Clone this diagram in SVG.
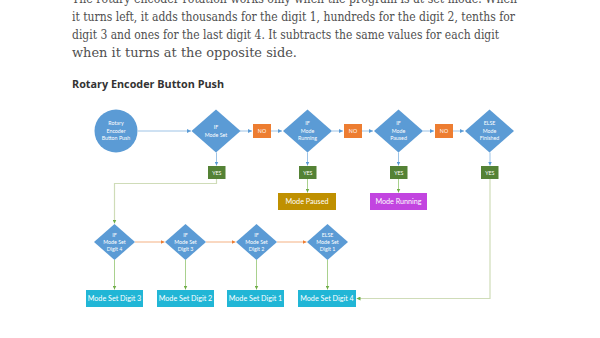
<svg xmlns="http://www.w3.org/2000/svg" width="600" height="338" viewBox="0 0 600 338">
<defs>
<style>
.body{font-family:"DejaVu Serif","Liberation Serif",serif;font-size:12.5px;fill:#505050}
.title{font-family:"Open Sans","Liberation Sans",sans-serif;font-size:11px;font-weight:bold;fill:#333}
.dia{fill:#5b9bd5}
.t{font-family:Lato,"Open Sans","Liberation Sans",sans-serif;fill:#fff;text-anchor:middle}
.s{font-size:5.3px}
.m{font-size:7.2px}
.no{fill:#ed7d31}
.yes{fill:#548235}
.dig{fill:#21b6d6}
.cb{stroke:#9dc3e6;stroke-width:1;fill:none}
.cg{stroke:#a9d18e;stroke-width:1;fill:none}
.cp{stroke:#cfdcb8;stroke-width:1.2;fill:none}
.co{stroke:#f4b183;stroke-width:1;fill:none}
</style>
<marker id="ab" markerWidth="4" markerHeight="4" refX="4" refY="2" orient="auto" markerUnits="userSpaceOnUse"><path d="M0,0L4,2L0,4z" fill="#5b9bd5"/></marker>
<marker id="ag" markerWidth="4" markerHeight="4" refX="4" refY="2" orient="auto" markerUnits="userSpaceOnUse"><path d="M0,0L4,2L0,4z" fill="#70ad47"/></marker>
<marker id="ao" markerWidth="4" markerHeight="4" refX="4" refY="2" orient="auto" markerUnits="userSpaceOnUse"><path d="M0,0L4,2L0,4z" fill="#ed7d31"/></marker>
</defs>
<rect width="600" height="338" fill="#fff"/>
<g id="text">
<text class="body" x="72" y="3" textLength="445" lengthAdjust="spacingAndGlyphs">The rotary encoder rotation works only when the program is at set mode. When</text>
<text class="body" x="72" y="21" textLength="443" lengthAdjust="spacingAndGlyphs">it turns left, it adds thousands for the digit 1, hundreds for the digit 2, tenths for</text>
<text class="body" x="72" y="39" textLength="427" lengthAdjust="spacingAndGlyphs">digit 3 and ones for the last digit 4. It subtracts the same values for each digit</text>
<text class="body" x="72" y="57" textLength="225" lengthAdjust="spacingAndGlyphs">when it turns at the opposite side.</text>
<text class="title" x="72" y="88" textLength="152" lengthAdjust="spacingAndGlyphs">Rotary Encoder Button Push</text>
</g>
<g id="connectors">
<path class="cb" d="M138,131H191" marker-end="url(#ab)"/>
<path class="cb" d="M240,131H252" marker-end="url(#ab)"/>
<path class="cb" d="M271,131H282" marker-end="url(#ab)"/>
<path class="cb" d="M332,131H343" marker-end="url(#ab)"/>
<path class="cb" d="M362,131H373" marker-end="url(#ab)"/>
<path class="cb" d="M423,131H434" marker-end="url(#ab)"/>
<path class="cb" d="M453,131H464" marker-end="url(#ab)"/>
<path class="cb" d="M216.5,152.5V165.5" marker-end="url(#ab)"/>
<path class="cb" d="M307.5,152.5V165.5" marker-end="url(#ab)"/>
<path class="cb" d="M398.5,152.5V165.5" marker-end="url(#ab)"/>
<path class="cb" d="M490,152.5V165.5" marker-end="url(#ab)"/>
<path class="cg" d="M307.5,179V192.5" marker-end="url(#ag)"/>
<path class="cg" d="M398.5,179V192.5" marker-end="url(#ag)"/>
<path class="cp" d="M216.5,179V183.5H114.5V223.5" marker-end="url(#ag)"/>
<path class="cp" d="M490,179V298.5H356.5" marker-end="url(#ag)"/>
<path class="co" d="M135,242H164.5" marker-end="url(#ao)"/>
<path class="co" d="M206,242H235.5" marker-end="url(#ao)"/>
<path class="co" d="M277,242H306.5" marker-end="url(#ao)"/>
<path class="cg" d="M114.5,260V289.5" marker-end="url(#ag)"/>
<path class="cg" d="M185.5,260V289.5" marker-end="url(#ag)"/>
<path class="cg" d="M256.5,260V289.5" marker-end="url(#ag)"/>
<path class="cg" d="M327.5,260V289.5" marker-end="url(#ag)"/>
</g>
<g id="start">
<circle class="dia" cx="116" cy="131" r="21.5"/>
<text class="t s" x="116" y="125">Rotary</text>
<text class="t s" x="116" y="132.5">Encoder</text>
<text class="t s" x="116" y="140">Button Push</text>
</g>
<g id="ifModeSet">
<path class="dia" d="M216,109.5L240.5,131L216,152.5L191.5,131z"/>
<text class="t s" x="216" y="129">IF</text>
<text class="t s" x="216" y="136.5">Mode Set</text>
</g>
<g id="no1"><rect class="no" x="253" y="124" width="18" height="14"/><text class="t s" x="262" y="133">NO</text></g>
<g id="ifModeRunning">
<path class="dia" d="M307.5,109.5L332,131L307.5,152.5L283,131z"/>
<text class="t s" x="307.5" y="125">IF</text>
<text class="t s" x="307.5" y="132.5">Mode</text>
<text class="t s" x="307.5" y="140">Running</text>
</g>
<g id="no2"><rect class="no" x="344" y="124" width="18" height="14"/><text class="t s" x="353" y="133">NO</text></g>
<g id="ifModePaused">
<path class="dia" d="M398.5,109.5L423,131L398.5,152.5L374,131z"/>
<text class="t s" x="398.5" y="125">IF</text>
<text class="t s" x="398.5" y="132.5">Mode</text>
<text class="t s" x="398.5" y="140">Paused</text>
</g>
<g id="no3"><rect class="no" x="435" y="124" width="18" height="14"/><text class="t s" x="444" y="133">NO</text></g>
<g id="elseModeFinished">
<path class="dia" d="M489.5,109.5L514,131L489.5,152.5L465,131z"/>
<text class="t s" x="489.5" y="125">ELSE</text>
<text class="t s" x="489.5" y="132.5">Mode</text>
<text class="t s" x="489.5" y="140">Finished</text>
</g>
<g id="yes1"><rect class="yes" x="208" y="166" width="17.5" height="13"/><text class="t s" x="216.75" y="174.5">YES</text></g>
<g id="yes2"><rect class="yes" x="299" y="166" width="17.5" height="13"/><text class="t s" x="307.75" y="174.5">YES</text></g>
<g id="yes3"><rect class="yes" x="390" y="166" width="17.5" height="13"/><text class="t s" x="398.75" y="174.5">YES</text></g>
<g id="yes4"><rect class="yes" x="481" y="166" width="17.5" height="13"/><text class="t s" x="489.75" y="174.5">YES</text></g>
<g id="modePaused"><rect x="278" y="193" width="58" height="17" fill="#bf9000"/><text class="t m" x="307" y="204">Mode Paused</text></g>
<g id="modeRunning"><rect x="370" y="193" width="57" height="17" fill="#c245e0"/><text class="t m" x="398.5" y="204">Mode Running</text></g>
<g id="ifDigit4">
<path class="dia" d="M114.5,224L135,242L114.5,260L94,242z"/>
<text class="t s" x="114.5" y="237">IF</text>
<text class="t s" x="114.5" y="244">Mode Set</text>
<text class="t s" x="114.5" y="251">Digit 4</text>
</g>
<g id="ifDigit3">
<path class="dia" d="M185.5,224L206,242L185.5,260L165,242z"/>
<text class="t s" x="185.5" y="237">IF</text>
<text class="t s" x="185.5" y="244">Mode Set</text>
<text class="t s" x="185.5" y="251">Digit 3</text>
</g>
<g id="ifDigit2">
<path class="dia" d="M256.5,224L277,242L256.5,260L236,242z"/>
<text class="t s" x="256.5" y="237">IF</text>
<text class="t s" x="256.5" y="244">Mode Set</text>
<text class="t s" x="256.5" y="251">Digit 2</text>
</g>
<g id="elseDigit1">
<path class="dia" d="M327.5,224L348,242L327.5,260L307,242z"/>
<text class="t s" x="327.5" y="237">ELSE</text>
<text class="t s" x="327.5" y="244">Mode Set</text>
<text class="t s" x="327.5" y="251">Digit 1</text>
</g>
<g id="setDigit3"><rect class="dig" x="86" y="290" width="57" height="17"/><text class="t m" x="114.5" y="301">Mode Set Digit 3</text></g>
<g id="setDigit2"><rect class="dig" x="157" y="290" width="57" height="17"/><text class="t m" x="185.5" y="301">Mode Set Digit 2</text></g>
<g id="setDigit1"><rect class="dig" x="227" y="290" width="57" height="17"/><text class="t m" x="255.5" y="301">Mode Set Digit 1</text></g>
<g id="setDigit4"><rect class="dig" x="298" y="290" width="58" height="17"/><text class="t m" x="327" y="301">Mode Set Digit 4</text></g>
</svg>
